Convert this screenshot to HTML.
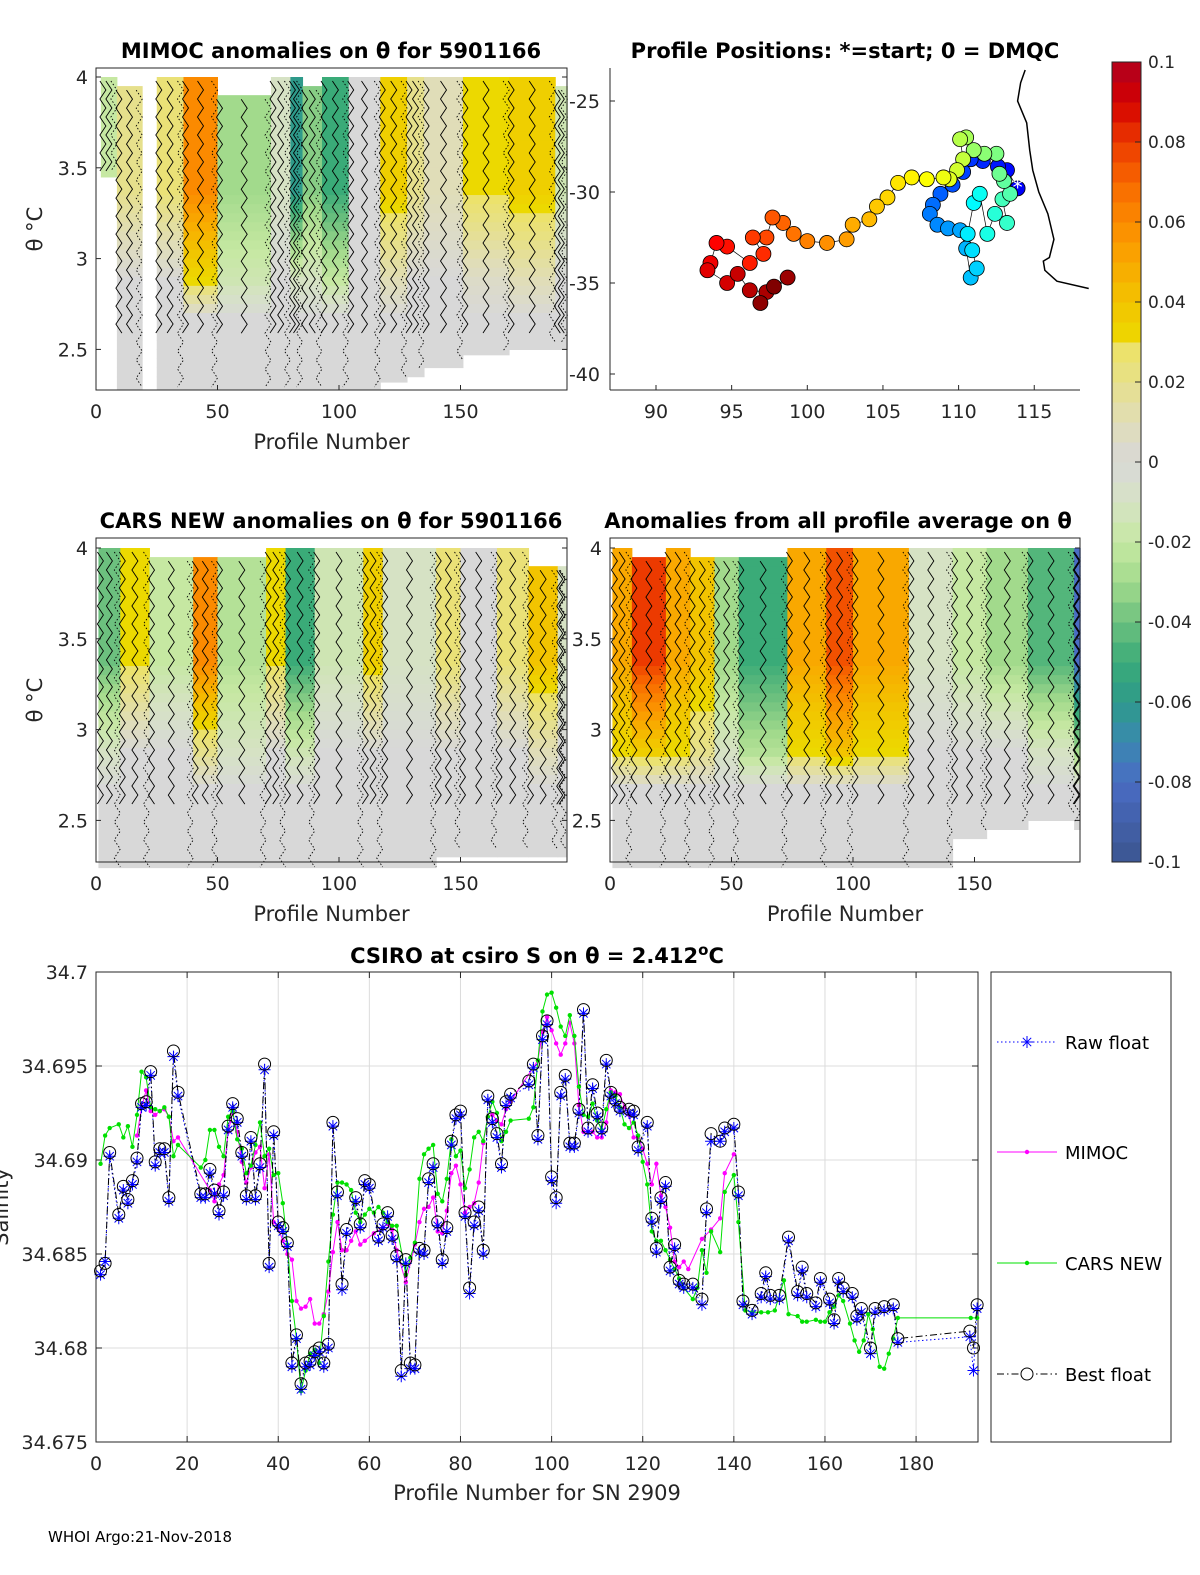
<!DOCTYPE html>
<html><head><meta charset="utf-8"><style>
html,body{margin:0;padding:0;background:#fff;}
svg{display:block;font-family:"DejaVu Sans","Liberation Sans",sans-serif;}
</style></head><body>
<svg id="fig" width="1200" height="1575" viewBox="0 0 1200 1575" xmlns="http://www.w3.org/2000/svg">
<g id="p1"></g>
<g id="p2"></g>
<g id="p3"></g>
<g id="p4"></g>
<g id="cb"></g>
<g id="p5"></g>
<text x="48" y="1542" font-size="15" fill="#000">WHOI Argo:21-Nov-2018</text>
</svg>
<script>
// ---- heatmap segment data: [startProfile, endProfile, upperAnom, lowerAnom, topTheta, bottomTheta]
const mimocSegs = [[2,8.6,-0.02,-0.02,4.0,3.45],[8.6,19,0.02,0,3.95,2.28],[25,36,0.025,0,4.0,2.28],[36,50,0.06,0.03,4.0,2.28],[50,72,-0.03,-0.015,3.9,2.28],[72,80,-0.01,0,4.0,2.28],[80,85,-0.06,-0.01,4.0,2.28],[85,93,-0.035,-0.01,3.95,2.28],[93,104,-0.05,-0.02,4.0,2.28],[104,117,0.0,0,4.0,2.28],[117,128,0.035,0.01,4.0,2.32],[128,135,0.02,0,4.0,2.35],[135,151,0.01,0,4.0,2.4],[151,170,0.03,0.005,4.0,2.47],[170,189,0.035,0.01,4.0,2.5],[189,194,-0.015,0,3.95,2.5]];
const carsSegs = [[1,10,-0.04,-0.01,4.0,2.24],[10,22,0.03,0,4.0,2.24],[22,40,-0.02,0,3.95,2.24],[40,50,0.06,0.02,3.95,2.24],[50,70,-0.025,-0.01,3.95,2.24],[70,78,0.03,0,4.0,2.24],[78,90,-0.05,-0.015,4.0,2.24],[90,110,-0.015,0,4.0,2.24],[110,118,0.035,0,4.0,2.24],[118,140,-0.01,0,4.0,2.24],[140,150,0.025,0,4.0,2.3],[150,165,0,0,4.0,2.3],[165,178,0.025,0,4.0,2.3],[178,190,0.04,0.01,3.9,2.3],[190,193.5,-0.01,0,3.9,2.3]];
const allSegs = [[1,9,0.05,0.03,4.0,2.24],[9,23,0.08,0.035,3.95,2.24],[23,33,0.05,0.03,4.0,2.24],[33,43,0.04,0.02,3.95,2.24],[43,53,-0.03,-0.01,3.95,2.24],[53,73,-0.05,-0.025,3.95,2.24],[73,89,0.05,0.03,4.0,2.24],[89,100,0.075,0.04,4.0,2.24],[100,123,0.05,0.03,4.0,2.24],[123,141,-0.01,0,4.0,2.24],[141,155,-0.02,0,4.0,2.4],[155,172,-0.03,0,4.0,2.45],[172,191,-0.045,-0.01,4.0,2.5],[191,193.5,-0.08,-0.03,4.0,2.45]];
const thetaTicks = [2.5,3,3.5,4];
const profTicks = [0,50,100,150];
// ---- map data
const trackLon = [113.9,113.2,112.6,111.6,110.8,110.3,109.6,108.8,108.3,108.1,108.6,109.3,110.1,110.5,110.8,111.2,110.9,110.6,111.0,111.4,111.9,112.4,113.2,112.9,113.4,113.0,112.7,112.5,111.7,111.0,110.5,110.1,110.3,109.9,109.4,109.0,107.9,106.9,106.0,105.3,104.6,104.1,103.0,102.6,101.3,100.0,99.1,98.4,97.7,97.3,96.4,97.1,96.2,94.7,94.0,93.6,93.4,94.7,95.4,96.2,97.3,98.7,96.9,97.8];
const trackLat = [-29.8,-28.8,-28.6,-28.3,-28.2,-28.9,-29.6,-30.1,-30.7,-31.2,-31.8,-32.0,-32.1,-33.1,-34.7,-34.2,-33.2,-32.3,-30.6,-30.1,-32.3,-31.2,-31.7,-30.4,-30.1,-29.4,-29.0,-27.9,-27.9,-27.7,-27.0,-27.1,-28.2,-28.8,-29.3,-29.2,-29.3,-29.2,-29.5,-30.3,-30.8,-31.5,-31.8,-32.6,-32.8,-32.7,-32.3,-31.7,-31.4,-32.5,-32.5,-33.4,-33.9,-33.0,-32.8,-33.9,-34.3,-35.0,-34.5,-35.4,-35.5,-34.7,-36.1,-35.2];
const coastLon = [114.4,114.1,113.9,114.5,114.7,114.9,115.3,115.9,116.3,116.0,115.6,115.7,116.5,118.6];
const coastLat = [-23.3,-24.0,-25.0,-26.2,-27.7,-28.8,-30.0,-31.2,-32.6,-33.6,-33.8,-34.3,-34.9,-35.3];
const lonTicks = [90,95,100,105,110,115];
const latTicks = [-25,-30,-35,-40];
const cbTicks = [-0.1,-0.08,-0.06,-0.04,-0.02,0,0.02,0.04,0.06,0.08,0.1];
const cbLabels = ["-0.1","-0.08","-0.06","-0.04","-0.02","0","0.02","0.04","0.06","0.08","0.1"];
// ---- salinity series
const bestP = [1,2,3,5,6,7,8,9,10,11,12,13,14,15,16,17,18,23,24,25,26,27,28,29,30,31,32,33,34,35,36,37,38,39,40,41,42,43,44,45,46,47,48,49,50,51,52,53,54,55,57,58,59,60,62,63,64,65,66,67,68,69,70,71,72,73,74,75,76,77,78,79,80,81,82,83,84,85,86,87,88,89,90,91,95,96,97,98,99,100,101,102,103,104,105,106,107,108,109,110,111,112,113,114,115,117,118,119,121,122,123,124,125,126,127,128,129,131,133,134,135,137,138,140,141,142,144,146,147,148,150,152,154,155,156,158,159,161,162,163,164,166,167,168,170,171,173,175,176,191.8,192.6,193.4];
const bestS = [34.6841,34.6845,34.6904,34.6871,34.6886,34.6879,34.6889,34.6901,34.6930,34.6931,34.6947,34.6899,34.6906,34.6906,34.6880,34.6958,34.6936,34.6882,34.6882,34.6895,34.6884,34.6873,34.6883,34.6918,34.6930,34.6922,34.6904,34.6881,34.6912,34.6881,34.6898,34.6951,34.6845,34.6915,34.6867,34.6864,34.6856,34.6792,34.6807,34.6781,34.6792,34.6793,34.6798,34.6800,34.6792,34.6802,34.6920,34.6883,34.6834,34.6863,34.6880,34.6866,34.6889,34.6887,34.6859,34.6866,34.6872,34.6860,34.6849,34.6788,34.6847,34.6792,34.6791,34.6853,34.6852,34.6890,34.6898,34.6867,34.6847,34.6864,34.6910,34.6924,34.6926,34.6872,34.6832,34.6867,34.6875,34.6852,34.6934,34.6922,34.6914,34.6898,34.6931,34.6935,34.6942,34.6951,34.6913,34.6966,34.6974,34.6891,34.6880,34.6936,34.6945,34.6909,34.6909,34.6927,34.6980,34.6917,34.6940,34.6925,34.6917,34.6953,34.6936,34.6932,34.6928,34.6927,34.6926,34.6907,34.6920,34.6869,34.6853,34.6880,34.6888,34.6843,34.6855,34.6836,34.6834,34.6834,34.6826,34.6874,34.6914,34.6910,34.6917,34.6919,34.6883,34.6825,34.6820,34.6829,34.6840,34.6828,34.6828,34.6859,34.6830,34.6843,34.6829,34.6824,34.6837,34.6826,34.6815,34.6837,34.6832,34.6829,34.6817,34.6821,34.6800,34.6821,34.6822,34.6823,34.6805,34.6809,34.6800,34.6823];
const rawS = [34.6839,34.6846,34.6902,34.6869,34.6884,34.6877,34.6887,34.6899,34.6928,34.6929,34.6945,34.6897,34.6904,34.6904,34.6878,34.6955,34.6934,34.6880,34.6880,34.6893,34.6882,34.6871,34.6881,34.6916,34.6928,34.6920,34.6902,34.6879,34.6910,34.6879,34.6896,34.6948,34.6843,34.6913,34.6865,34.6862,34.6854,34.6790,34.6805,34.6778,34.6790,34.6791,34.6796,34.6798,34.6790,34.6800,34.6918,34.6881,34.6831,34.6861,34.6878,34.6864,34.6887,34.6885,34.6857,34.6864,34.6870,34.6858,34.6847,34.6785,34.6845,34.6789,34.6789,34.6851,34.6850,34.6888,34.6896,34.6865,34.6845,34.6862,34.6908,34.6922,34.6924,34.6870,34.6829,34.6865,34.6873,34.6850,34.6932,34.6920,34.6912,34.6896,34.6929,34.6933,34.6940,34.6949,34.6911,34.6964,34.6972,34.6889,34.6877,34.6934,34.6943,34.6907,34.6907,34.6925,34.6978,34.6915,34.6938,34.6923,34.6915,34.6951,34.6934,34.6930,34.6926,34.6925,34.6924,34.6905,34.6918,34.6867,34.6851,34.6878,34.6886,34.6841,34.6853,34.6834,34.6832,34.6832,34.6823,34.6872,34.6910,34.6910,34.6915,34.6917,34.6881,34.6823,34.6818,34.6827,34.6838,34.6826,34.6826,34.6857,34.6828,34.6841,34.6827,34.6822,34.6835,34.6824,34.6813,34.6835,34.6830,34.6827,34.6815,34.6819,34.6797,34.6819,34.6820,34.6821,34.6803,34.6806,34.6788,34.6821];
const carsP = [1,2,3,5,6,7,8,9,10,11,12,13,14,15,16,17,18,23,24,25,26,27,28,29,30,31,32,33,34,35,36,37,38,39,40,41,42,43,44,45,46,47,48,49,50,51,52,53,54,55,56,57,58,59,60,61,62,63,64,65,66,68,69,70,71,72,73,74,75,76,77,78,79,80,81,82,83,84,85,86,87,88,89,90,91,95,96,97,98,99,100,101,102,103,104,105,106,107,108,109,110,111,112,113,114,115,116,117,118,119,120,121,122,123,124,125,126,127,128,129,131,132,133,134,135,137,138,140,141,142.5,144,146,147.5,149,151,152,154,155,156,158,159,160,161,162,163,164,165.5,166.5,167.5,168.5,169.5,170.5,172,173,174,175,176,192,193.4];
const carsS = [34.6898,34.6913,34.6917,34.6919,34.6912,34.6918,34.6907,34.6924,34.6947,34.6944,34.6928,34.6927,34.6926,34.6928,34.6923,34.6902,34.6908,34.6896,34.6900,34.6916,34.6916,34.6907,34.6902,34.6923,34.6926,34.6911,34.6906,34.6893,34.6897,34.6908,34.6920,34.6902,34.6906,34.6892,34.6893,34.6877,34.6855,34.6825,34.6805,34.6777,34.6788,34.6797,34.6799,34.6792,34.6817,34.6846,34.6871,34.6888,34.6888,34.6887,34.6884,34.6872,34.6867,34.6871,34.6874,34.6872,34.6875,34.6872,34.6867,34.6865,34.6865,34.6839,34.6848,34.6856,34.6890,34.6903,34.6906,34.6908,34.6882,34.6878,34.6890,34.6911,34.6902,34.6905,34.6885,34.6895,34.6912,34.6915,34.6910,34.6923,34.6931,34.6925,34.6910,34.6915,34.6921,34.6922,34.6928,34.6953,34.6979,34.6988,34.6989,34.6981,34.6971,34.6966,34.6977,34.6966,34.6939,34.6924,34.6923,34.6930,34.6921,34.6916,34.6927,34.6936,34.6934,34.6928,34.6919,34.6917,34.6920,34.6913,34.6899,34.6887,34.6862,34.6857,34.6857,34.6852,34.6847,34.6842,34.6837,34.6832,34.6826,34.6832,34.6852,34.6840,34.6862,34.6851,34.6883,34.6892,34.6867,34.6820,34.6819,34.6819,34.6819,34.6820,34.6836,34.6818,34.6817,34.6814,34.6814,34.6815,34.6814,34.6814,34.6819,34.6822,34.6828,34.6825,34.6813,34.6804,34.6798,34.6804,34.6818,34.6810,34.6790,34.6789,34.6797,34.6805,34.6816,34.6816,34.6816];
const mimocP = [9,10,11,12,13,14,15,16,17,18,25,26,27,28,29,30,31,32,33,34,35,36,37,38,39,40,41,42,43,44,45,46,47,48,49,50,51,52,53,54,55,56,57,58,59,61,63,64,65,66,68,70,71,72,73,74,75,76,77,78,79,80,81,82,83,84,85,86,87,88,89,90,91,97,98,99,100,101,102,103,104,105,106,107,108,109,110,111,112,113,114,115,116,117,118,119,120,121,122,123,124,125,126,127,128,129,130,133,135,137,138,140];
const mimocS = [34.6913,34.6928,34.6937,34.6926,34.6924,34.6926,34.6927,34.6923,34.6910,34.6912,34.6884,34.6878,34.6887,34.6892,34.6915,34.6925,34.6915,34.6899,34.6888,34.6896,34.6904,34.6907,34.6885,34.6903,34.6867,34.6864,34.6857,34.6850,34.6847,34.6825,34.6821,34.6822,34.6826,34.6813,34.6813,34.6818,34.6830,34.6851,34.6867,34.6852,34.6852,34.6857,34.6862,34.6855,34.6857,34.6861,34.6864,34.6866,34.6863,34.6852,34.6835,34.6855,34.6867,34.6874,34.6875,34.6880,34.6862,34.6861,34.6873,34.6893,34.6897,34.6887,34.6872,34.6875,34.6877,34.6888,34.6909,34.6923,34.6924,34.6921,34.6919,34.6927,34.6931,34.6953,34.6968,34.6976,34.6969,34.6962,34.6956,34.6962,34.6973,34.6962,34.6929,34.6915,34.6915,34.6915,34.6912,34.6912,34.6920,34.6937,34.6936,34.6935,34.6928,34.6924,34.6912,34.6912,34.6906,34.6898,34.6887,34.6898,34.6881,34.6875,34.6864,34.6846,34.6843,34.6846,34.6842,34.6858,34.6863,34.6869,34.6893,34.6903];
const salTicks = [34.675,34.68,34.685,34.69,34.695,34.7];
const salTickLabels = ["34.675","34.68","34.685","34.69","34.695","34.7"];
const profTicks2 = [0,20,40,60,80,100,120,140,160,180];

const NS = "http://www.w3.org/2000/svg";
function mk(parent, tag, attrs, text){
  const e = document.createElementNS(NS, tag);
  for (const k in attrs) e.setAttribute(k, attrs[k]);
  if (text !== undefined) e.textContent = text;
  parent.appendChild(e);
  return e;
}
const cmV = [-0.1,-0.08,-0.07,-0.06,-0.05,-0.04,-0.03,-0.02,-0.01,0,0.01,0.02,0.028,0.03,0.04,0.05,0.06,0.07,0.08,0.09,0.1];
const cmC = ["#3b558f","#4a6cc4","#3a88b0","#2e9a8a","#3aab78","#6cc07e","#a2da8c","#c6e8a2","#d6e2c4","#d8d8d8","#e0ddb8","#e6e08c","#ece26a","#ecd900","#f2c400","#f9a800","#fb8a00","#f86800","#ec3a00","#d40000","#ae0020"];
function hex(c){return [parseInt(c.substr(1,2),16),parseInt(c.substr(3,2),16),parseInt(c.substr(5,2),16)];}
function cmap(v){
  v = Math.max(-0.1, Math.min(0.1, v));
  for (let i=0;i<cmV.length-1;i++){
    if (v<=cmV[i+1]){
      const t=(v-cmV[i])/(cmV[i+1]-cmV[i]); const a=hex(cmC[i]), b=hex(cmC[i+1]);
      return "rgb("+a.map((x,j)=>Math.round(x+(b[j]-x)*t)).join(",")+")";
    }
  }
  return cmC[cmC.length-1];
}
function text(g, x, y, s, size, anchor, extra){
  const a = Object.assign({x:x, y:y, "font-size":size, "text-anchor":anchor||"middle", fill:"#262626"}, extra||{});
  return mk(g, "text", a, s);
}

function heatPanel(gid, segs, X0, Y0, W, H, xScale, yScale, title, titleX, showYLabel, yTickX){
  const g = document.getElementById(gid);
  const cells = mk(g, "g", {});
  
  
  const lines = mk(g, "g", {});
  
  
  segs.forEach(s=>{
    const [p0,p1,up,lo,top,bot]=s;
    const step=0.05;
    for (let t=top; t>bot-1e-9; t-=step){
      const tb=Math.max(bot,t-step);
      let v;
      if (t>3.4) v=up;
      else if (t>2.9) v=lo+(up-lo)*(t-2.9)/0.5;
      else if (t>2.7) v=lo*(t-2.7)/0.2;
      else v=0;
      const r = mk(cells,"rect",{x:xScale(p0),y:yScale(t),width:xScale(p1)-xScale(p0)+0.5,height:yScale(tb)-yScale(t)+0.5,fill:cmap(v)});
      
      
    }
    // contour-like zigzag lines at segment edges and middle
    const xa=xScale(p0), xb=xScale(p1), xm=(xa+xb)/2;
    [[xa+2,"none",0.9],[xm,"none",0.9],[xb-3,"1.5 2",0.9]].forEach((d,k)=>{
      let pts=[]; let yy=yScale(top)+4, i=0;
      const yEnd = k===2 ? yScale(bot) : yScale(Math.max(bot,2.55));
      while(yy<yEnd){pts.push((d[0]+(i%2?3:-3)).toFixed(1)+","+yy.toFixed(1)); yy+=9; i++;}
      const c = mk(lines,"polyline",{points:pts.join(" "),fill:"none",stroke:"#000","stroke-width":d[2],"stroke-dasharray":d[1]});
      
      
    });
  });
  mk(g,"rect",{x:X0,y:Y0,width:W,height:H,fill:"none",stroke:"#262626","stroke-width":1});
  profTicks.forEach(p=>{
    const x=xScale(p);
    mk(g,"line",{x1:x,x2:x,y1:Y0+H,y2:Y0+H-5,stroke:"#262626"});
    const t=text(g,x,Y0+H+28,String(p),19);
    
    
  });
  thetaTicks.forEach(v=>{
    const y=yScale(v);
    mk(g,"line",{x1:X0,x2:X0+5,y1:y,y2:y,stroke:"#262626"});
    mk(g,"line",{x1:X0+W,x2:X0+W-5,y1:y,y2:y,stroke:"#262626"});
    const t=text(g,yTickX,y+7,String(v),19,"end");
    
    
  });
  const xl=text(g,X0+W/2,Y0+H+59,"Profile Number",21);
  
  
  if (showYLabel){
    const yl=text(g,0,0,"θ °C",21,"middle",{transform:"translate(42,"+(Y0+H/2)+") rotate(-90)"});
    
    
  }
  const tt=text(g,titleX,Y0-10,title,21,"middle",{"font-weight":"bold",fill:"#000"});
  
  
}
const px = 2.43, pyk = 181.6;
heatPanel("p1", mimocSegs, 96, 68, 471, 322, p=>96+p*px, t=>77+(4-t)*pyk, "MIMOC anomalies on θ  for 5901166", 331, true, 88);
heatPanel("p3", carsSegs, 96, 538, 471, 324, p=>96+p*px, t=>548+(4-t)*pyk, "CARS NEW anomalies on θ for 5901166", 331, true, 88);
heatPanel("p4", allSegs, 610, 538, 470, 324, p=>610+p*px, t=>548+(4-t)*pyk, "Anomalies from all profile average on θ", 838, false, 602);

// ---- map
(function(){
  const g=document.getElementById("p2");
  const X0=610,Y0=68,W=470,H=322;
  const lx=l=>656+(l-90)*15.13, ly=l=>101+(-25-l)*18.2;
  mk(g,"line",{x1:X0,x2:X0,y1:Y0,y2:Y0+H,stroke:"#262626"});
  mk(g,"line",{x1:X0,x2:X0+W,y1:Y0+H,y2:Y0+H,stroke:"#262626"});
  lonTicks.forEach(v=>{const x=lx(v);mk(g,"line",{x1:x,x2:x,y1:Y0+H,y2:Y0+H-5,stroke:"#262626"});
    const t=text(g,x,Y0+H+28,String(v),19);
    
    });
  latTicks.forEach(v=>{const y=ly(v);mk(g,"line",{x1:X0,x2:X0+5,y1:y,y2:y,stroke:"#262626"});
    const t=text(g,X0-10,y+7,String(v),19,"end");
    
    });
  const coast=mk(g,"polyline",{points:coastLon.map((l,i)=>lx(l)+","+ly(coastLat[i])).join(" "),fill:"none",stroke:"#000","stroke-width":1.5});
  
  
  const track=mk(g,"polyline",{points:trackLon.map((l,i)=>lx(l)+","+ly(trackLat[i])).join(" "),fill:"none",stroke:"#000","stroke-width":0.7});
  
  
  const n=trackLon.length;
  function jet(t){const r=Math.min(1,Math.max(0,1.5-Math.abs(4*t-3))),gg=Math.min(1,Math.max(0,1.5-Math.abs(4*t-2))),b=Math.min(1,Math.max(0,1.5-Math.abs(4*t-1)));return "rgb("+Math.round(r*255)+","+Math.round(gg*255)+","+Math.round(b*255)+")";}
  trackLon.forEach((l,i)=>{
    const c=mk(g,"circle",{cx:lx(l),cy:ly(trackLat[i]),r:7.5,fill:jet(0.12+0.88*i/(n-1)),stroke:"#000","stroke-width":0.8});
    
    
  });
  const st=text(g,lx(trackLon[0]),ly(trackLat[0])+6,"*",20,"middle",{fill:"#fff"});
  
  
  const tt=text(g,845,58,"Profile Positions: *=start; 0 = DMQC",21,"middle",{"font-weight":"bold",fill:"#000"});
  
  
})();

// ---- colorbar
(function(){
  const g=document.getElementById("cb");
  const X=1112,W=29,Yt=62,Yb=862;
  const cy=v=>Yb-(v+0.1)/0.2*(Yb-Yt);
  const nb=40;
  for(let i=0;i<nb;i++){
    const v0=-0.1+i*0.2/nb, v1=v0+0.2/nb;
    const r=mk(g,"rect",{x:X,y:cy(v1),width:W,height:cy(v0)-cy(v1)+0.5,fill:cmap((v0+v1)/2)});
    
    
  }
  mk(g,"rect",{x:X,y:Yt,width:W,height:Yb-Yt,fill:"none",stroke:"#262626"});
  cbTicks.forEach((v,i)=>{const y=cy(v);
    mk(g,"line",{x1:X+W-6,x2:X+W,y1:y,y2:y,stroke:"#262626"});
    const t=text(g,X+W+7,y+6,cbLabels[i],17,"start");
    
    });
})();

// ---- salinity chart
(function(){
  const g=document.getElementById("p5");
  const X0=96,Y0=972,W=882,H=470;
  const sx=p=>96+p*4.556, sy=s=>972+(34.7-s)/0.025*470;
  mk(g,"rect",{x:X0,y:Y0,width:W,height:H,fill:"#fff"});
  profTicks2.forEach(p=>{const x=sx(p);
    mk(g,"line",{x1:x,x2:x,y1:Y0,y2:Y0+H,stroke:"#dcdcdc"});
    mk(g,"line",{x1:x,x2:x,y1:Y0+H,y2:Y0+H-6,stroke:"#262626"});
    mk(g,"line",{x1:x,x2:x,y1:Y0,y2:Y0+6,stroke:"#262626"});
    const t=text(g,x,Y0+H+28,String(p),19);
    
    });
  salTicks.forEach((s,i)=>{const y=sy(s);
    mk(g,"line",{x1:X0,x2:X0+W,y1:y,y2:y,stroke:"#dcdcdc"});
    mk(g,"line",{x1:X0,x2:X0+6,y1:y,y2:y,stroke:"#262626"});
    mk(g,"line",{x1:X0+W,x2:X0+W-6,y1:y,y2:y,stroke:"#262626"});
    const t=text(g,88,y+7,salTickLabels[i],19,"end");
    
    });
  mk(g,"rect",{x:X0,y:Y0,width:W,height:H,fill:"none",stroke:"#262626"});
  function pts(P,S){return P.map((p,i)=>sx(p).toFixed(1)+","+sy(S[i]).toFixed(1)).join(" ");}
  const raw=mk(g,"polyline",{points:pts(bestP,rawS),fill:"none",stroke:"#0000ff","stroke-width":1,"stroke-dasharray":"1.5 2.5"});
  
  
  const mim=mk(g,"polyline",{points:pts(mimocP,mimocS),fill:"none",stroke:"#ff00ff","stroke-width":1});
  
  
  mimocP.forEach((p,i)=>{const c=mk(g,"circle",{cx:sx(p),cy:sy(mimocS[i]),r:2.2,fill:"#ff00ff"});
    
    });
  const cars=mk(g,"polyline",{points:pts(carsP,carsS),fill:"none",stroke:"#00e000","stroke-width":1});
  
  
  carsP.forEach((p,i)=>{const c=mk(g,"circle",{cx:sx(p),cy:sy(carsS[i]),r:2.2,fill:"#00e000"});
    
    });
  const best=mk(g,"polyline",{points:pts(bestP,bestS),fill:"none",stroke:"#000","stroke-width":1,"stroke-dasharray":"7 3 1.5 3"});
  
  
  bestP.forEach((p,i)=>{
    const x=sx(p), y=sy(rawS[i]);
    const s=mk(g,"path",{d:`M${x-6},${y}H${x+6}M${x},${y-6}V${y+6}M${x-4.2},${y-4.2}L${x+4.2},${y+4.2}M${x-4.2},${y+4.2}L${x+4.2},${y-4.2}`,stroke:"#0000ff","stroke-width":1,fill:"none"});
    
    
    const c=mk(g,"circle",{cx:x,cy:sy(bestS[i]),r:6,fill:"none",stroke:"#000","stroke-width":1});
    
    
  });
  const xl=text(g,X0+W/2,Y0+H+58,"Profile Number for SN 2909",21);
  
  
  const yl=text(g,0,0,"Salinity",21,"middle",{transform:"translate(8,1207) rotate(-90)"});
  
  
  const tt=mk(g,"text",{x:537,y:963,"font-size":21,"text-anchor":"middle","font-weight":"bold",fill:"#000"});
  tt.innerHTML='CSIRO at csiro S on θ = 2.412<tspan dy="-8" font-size="15">o</tspan><tspan dy="8">C</tspan>';
  
  
  const lg=mk(g,"g",{});
  
  
  mk(lg,"rect",{x:991,y:972,width:180,height:470,fill:"#fff",stroke:"#262626"});
  const ly=[1042,1152,1263,1374];
  const names=["Raw float","MIMOC","CARS NEW","Best float"];
  names.forEach((n,i)=>{
    const y=ly[i];
    const e=mk(lg,"g",{});
    
    
    if(i===0){mk(e,"line",{x1:997,x2:1057,y1:y,y2:y,stroke:"#0000ff","stroke-dasharray":"1.5 2.5"});
      mk(e,"path",{d:"M1021,1042H1033M1027,1036V1048M1022.8,1037.8L1031.2,1046.2M1022.8,1046.2L1031.2,1037.8",stroke:"#0000ff",fill:"none"});}
    if(i===1){mk(e,"line",{x1:997,x2:1057,y1:y,y2:y,stroke:"#ff00ff"});mk(e,"circle",{cx:1027,cy:y,r:2.2,fill:"#ff00ff"});}
    if(i===2){mk(e,"line",{x1:997,x2:1057,y1:y,y2:y,stroke:"#00e000"});mk(e,"circle",{cx:1027,cy:y,r:2.2,fill:"#00e000"});}
    if(i===3){mk(e,"line",{x1:997,x2:1057,y1:y,y2:y,stroke:"#000","stroke-dasharray":"7 3 1.5 3"});mk(e,"circle",{cx:1027,cy:y,r:6,fill:"#fff",stroke:"#000"});}
    text(e,1065,y+7,n,18,"start",{fill:"#000"});
  });
})();
</script>
</body></html>
